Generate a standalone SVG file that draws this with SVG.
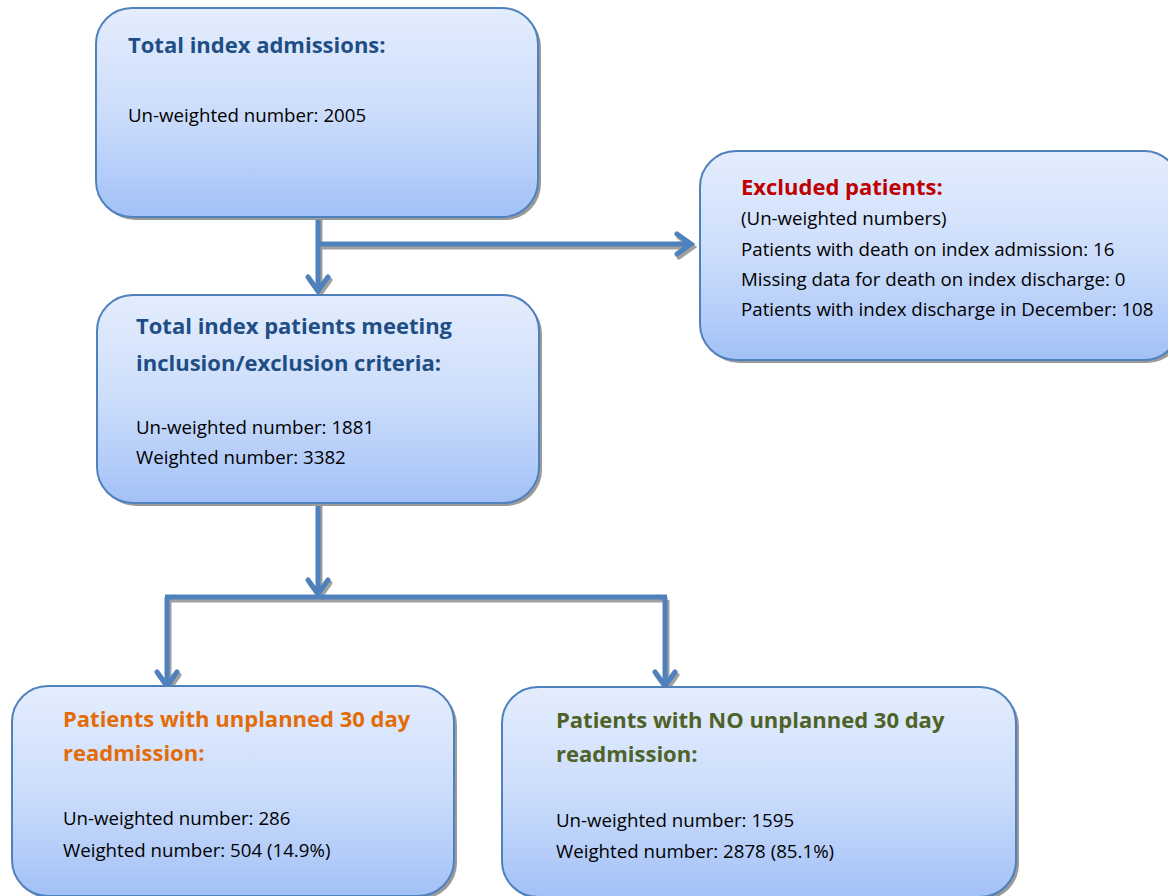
<svg xmlns="http://www.w3.org/2000/svg" width="1168" height="896" viewBox="0 0 1168 896">
<defs>
<linearGradient id="g" x1="0" y1="0" x2="0" y2="1">
<stop offset="0" stop-color="#E4EDFD"/>
<stop offset="0.5" stop-color="#CCDDFB"/>
<stop offset="1" stop-color="#A3C1F7"/>
</linearGradient>
<marker id="ah" viewBox="0 0 26 26" refX="21" refY="13" markerWidth="26" markerHeight="26" markerUnits="userSpaceOnUse" orient="auto">
<path d="M7,3 L21,13 L7,23" fill="none" stroke="#4F81BD" stroke-width="5" stroke-linecap="round" stroke-linejoin="miter"/>
</marker>
<marker id="ahs" viewBox="0 0 26 26" refX="21" refY="13" markerWidth="26" markerHeight="26" markerUnits="userSpaceOnUse" orient="auto">
<path d="M7,3 L21,13 L7,23" fill="none" stroke="#A0A0A0" stroke-width="5" stroke-linecap="round"/>
</marker>
</defs>
<style>
.shadow{fill:#9A9A9A;}
.box{fill:url(#g);stroke:#4F81BD;stroke-width:2;}
.t{font-family:"Open Sans","Liberation Sans",sans-serif;font-size:22px;font-weight:bold;}
.b{font-family:"Open Sans","Liberation Sans",sans-serif;font-size:18.7px;fill:#000;}
.blue{fill:#1F4E85;}
.red{fill:#C00000;}
.orange{fill:#E36C09;}
.green{fill:#4F6228;}
.c{fill:none;stroke:#4F81BD;stroke-width:5;}
.cs{fill:none;stroke:#A0A0A0;stroke-width:5;}
</style>
<g id="connectors">
<g transform="translate(2,3)">
<path class="cs" d="M318,217 V291" marker-end="url(#ahs)"/>
<path class="cs" d="M318,244 H691" marker-end="url(#ahs)"/>
<path class="cs" d="M318,503 V594" marker-end="url(#ahs)"/>
<path class="cs" d="M167,597 H665"/>
<path class="cs" d="M167,597 V686" marker-end="url(#ahs)"/>
<path class="cs" d="M665,597 V686" marker-end="url(#ahs)"/>
</g>
<path class="c" d="M318,217 V291" marker-end="url(#ah)"/>
<path class="c" d="M318,244 H691" marker-end="url(#ah)"/>
<path class="c" d="M318,503 V594" marker-end="url(#ah)"/>
<path class="c" d="M165,597 H667"/>
<path class="c" d="M167,597 V686" marker-end="url(#ah)"/>
<path class="c" d="M665,597 V686" marker-end="url(#ah)"/>
</g>
<g id="n1">
<rect class="shadow" x="99" y="11" width="442" height="209" rx="36"/>
<rect class="box" x="96" y="8" width="442" height="209" rx="36"/>
<text class="t blue" x="128" y="53">Total index admissions:</text>
<text class="b" x="128" y="122">Un-weighted number: 2005</text>
</g>
<g id="n2">
<rect class="shadow" x="703" y="154" width="480" height="209" rx="36"/>
<rect class="box" x="700" y="151" width="480" height="209" rx="36"/>
<text class="t red" x="741" y="195">Excluded patients:</text>
<text class="b" x="741" y="225">(Un-weighted numbers)</text>
<text class="b" x="741" y="256">Patients with death on index admission: 16</text>
<text class="b" x="741" y="286">Missing data for death on index discharge: 0</text>
<text class="b" x="741" y="316">Patients with index discharge in December: 108</text>
</g>
<g id="n3">
<rect class="shadow" x="100" y="298" width="442" height="208" rx="36"/>
<rect class="box" x="97" y="295" width="442" height="208" rx="36"/>
<text class="t blue" x="136" y="334">Total index patients meeting</text>
<text class="t blue" x="136" y="371">inclusion/exclusion criteria:</text>
<text class="b" x="136" y="434">Un-weighted number: 1881</text>
<text class="b" x="136" y="464">Weighted number: 3382</text>
</g>
<g id="n4">
<rect class="shadow" x="15" y="689" width="442" height="210" rx="36"/>
<rect class="box" x="12" y="686" width="442" height="210" rx="36"/>
<text class="t orange" x="63" y="727">Patients with unplanned 30 day</text>
<text class="t orange" x="63" y="761">readmission:</text>
<text class="b" x="63" y="825">Un-weighted number: 286</text>
<text class="b" x="63" y="857">Weighted number: 504 (14.9%)</text>
</g>
<g id="n5">
<rect class="shadow" x="505" y="690" width="514" height="210" rx="36"/>
<rect class="box" x="502" y="687" width="514" height="210" rx="36"/>
<text class="t green" x="556" y="728">Patients with NO unplanned 30 day</text>
<text class="t green" x="556" y="762">readmission:</text>
<text class="b" x="556" y="827">Un-weighted number: 1595</text>
<text class="b" x="556" y="858">Weighted number: 2878 (85.1%)</text>
</g>
</svg>
